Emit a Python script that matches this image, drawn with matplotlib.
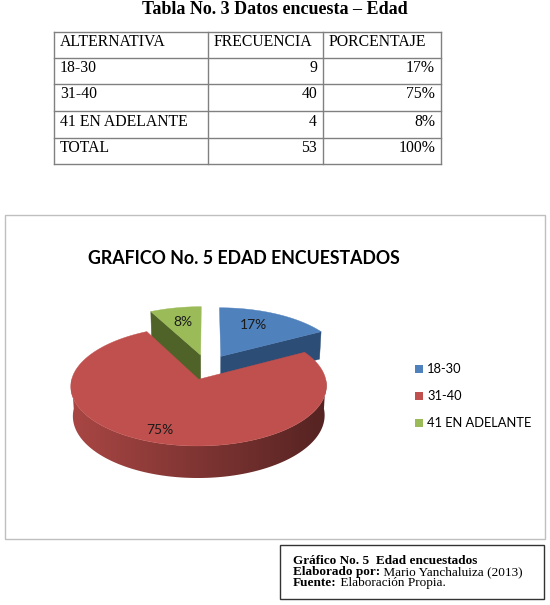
import numpy as np
import matplotlib.pyplot as plt
from matplotlib.colors import to_rgb
from matplotlib.patches import Polygon, Rectangle

# datos de la tabla / grafico
alternativas = ['18-30', '31-40', '41 EN ADELANTE']
frecuencia = [9, 40, 4]
porcentaje = [17, 75, 8]
total_frec = 53
total_pct = 100
encabezados = ['ALTERNATIVA', 'FRECUENCIA', 'PORCENTAJE']

col_top = ['#4F81BD', '#C0504D', '#9BBB59']
col_side = ['#2C4D75', '#8C3836', '#4F6228']

fig = plt.figure(figsize=(5.5, 6.05), dpi=100)
ax = fig.add_axes([0, 0, 1, 1])
ax.set_xlim(0, 550)
ax.set_ylim(605, 0)
ax.set_autoscale_on(False)
ax.axis('off')

serif = 'Liberation Serif'
sans = 'Lato'

# ---------- tabla ----------
ax.text(274.5, 9.5, 'Tabla No. 3 Datos encuesta \u2013 Edad', family=serif, weight='bold',
        fontsize=13, ha='center', va='center')
xs = [54, 208, 323, 441]
ys = [32, 58, 84, 111, 138, 164]
for y in ys:
    ax.plot([xs[0], xs[-1]], [y, y], color='#808080', lw=1)
for x in xs:
    ax.plot([x, x], [ys[0], ys[-1]], color='#808080', lw=1)
filas = [encabezados]
for a, f, p in zip(alternativas, frecuencia, porcentaje):
    filas.append([a, str(f), '%d%%' % p])
filas.append(['TOTAL', str(total_frec), '%d%%' % total_pct])
for i, fila in enumerate(filas):
    yt = ys[i] + 10.5
    for j, txt in enumerate(fila):
        if i == 0 or j == 0:
            ax.text(xs[j] + 6, yt, txt, family=serif, fontsize=11.3, ha='left', va='center')
        else:
            ax.text(xs[j + 1] - 6, yt, txt, family=serif, fontsize=11.3, ha='right', va='center')

# ---------- recuadro del grafico ----------
ax.add_patch(Rectangle((5, 215), 540, 324, fill=False, edgecolor='#BFBFBF', lw=1))
ax.text(244, 258, 'GRAFICO No. 5 EDAD ENCUESTADOS', family=sans, weight='bold',
        fontsize=12.8, ha='center', va='center', color='black')

# ---------- pastel 3D ----------
tilt = np.radians(27)
D = 8.0
S = 124
cx, cy = 207, 367
h = 0.266
e = 0.223


def proj(X, Y, Z):
    v = Y * np.sin(tilt) + Z * np.cos(tilt)
    w = Y * np.cos(tilt) - Z * np.sin(tilt)
    k = 1 / (1 + w / D)
    return np.column_stack([cx + S * X * k, cy - S * v * k])


def shade(c, f):
    r, g, b = to_rgb(c)
    return (r * f, g * f, b * f)


fr = np.array(frecuencia) / sum(frecuencia)
a1s = np.cumsum(fr) * 360
a0s = a1s - fr * 360
label_r = [0.68, 0.83, 0.68]
label_da = [-5, 2, 0]

z = 2
orden = [0, 2, 1]  # atras primero
for i in orden:
    a0, a1 = a0s[i], a1s[i]
    mid = np.radians((a0 + a1) / 2)
    ox, oy = e * np.sin(mid), e * np.cos(mid)
    # caras radiales
    for ang, nrm in [(a0, a0 - 90), (a1, a1 + 90)]:
        if np.cos(np.radians(nrm)) < -0.05:
            t = np.radians(ang)
            X = np.array([ox, ox + np.sin(t), ox + np.sin(t), ox])
            Y = np.array([oy, oy + np.cos(t), oy + np.cos(t), oy])
            Z = np.array([0, 0, -h, -h])
            ax.add_patch(Polygon(proj(X, Y, Z), closed=True, facecolor=col_side[i],
                                 edgecolor=col_side[i], lw=0.3, zorder=z))
            z += 1
    # pared exterior (parte frontal) con degradado
    t0, t1 = max(a0, 90), min(a1, 270)
    if t1 > t0:
        tt = np.radians(np.linspace(t0, t1, 120))
        X = np.concatenate([ox + np.sin(tt), ox + np.sin(tt[::-1])])
        Y = np.concatenate([oy + np.cos(tt), oy + np.cos(tt[::-1])])
        Z = np.concatenate([np.zeros(len(tt)), -h * np.ones(len(tt))])
        pts = proj(X, Y, Z)
        wall = Polygon(pts, closed=True, facecolor='none', edgecolor='none', zorder=z)
        ax.add_patch(wall)
        grad = np.linspace(0.88, 0.44, 256)
        img = np.array([shade(col_top[i], f) for f in grad])[None, :, :]
        im = ax.imshow(img, extent=(pts[:, 0].min(), pts[:, 0].max(), pts[:, 1].max(), pts[:, 1].min()),
                       aspect='auto', interpolation='bilinear', zorder=z)
        im.set_clip_path(wall)
        z += 1
    # cara superior
    tt = np.radians(np.linspace(a0, a1, 120))
    X = np.concatenate([[ox], ox + np.sin(tt)])
    Y = np.concatenate([[oy], oy + np.cos(tt)])
    ax.add_patch(Polygon(proj(X, Y, np.zeros(len(X))), closed=True, facecolor=col_top[i],
                         edgecolor=col_top[i], lw=0.3, zorder=z))
    z += 1
    # etiqueta
    ml = mid + np.radians(label_da[i])
    p = proj(np.array([ox + label_r[i] * np.sin(ml)]), np.array([oy + label_r[i] * np.cos(ml)]),
             np.array([0.0]))[0]
    ax.text(p[0], p[1], '%d%%' % porcentaje[i], family=sans, fontsize=10,
            ha='center', va='center', color='#1a1a1a', zorder=50)

# ---------- leyenda ----------
for i, a in enumerate(alternativas):
    yl = 369 + i * 27
    ax.add_patch(Rectangle((415, yl - 4), 8, 8, facecolor=col_top[i], edgecolor='none'))
    ax.text(427, yl, a, family=sans, fontsize=9.3, ha='left', va='center')

# ---------- pie de figura ----------
ax.add_patch(Rectangle((280, 545), 264, 54, fill=False, edgecolor='#333333', lw=1))
ax.text(293, 564, 'Gr\u00e1fico No. 5  Edad encuestados', family=serif, weight='bold',
        fontsize=9.5, ha='left', va='baseline')
for yb, neg, norm in [(575, 'Elaborado por:', ' Mario Yanchaluiza (2013)'),
                      (586, 'Fuente:', ' Elaboraci\u00f3n Propia.')]:
    tb = ax.text(293, yb, neg, family=serif, weight='bold', fontsize=9.5, ha='left', va='baseline')
    ax.annotate(norm, xy=(1, 0), xycoords=tb, family=serif, fontsize=9.5, ha='left', va='bottom')

fig.savefig('out.png', dpi=100)
